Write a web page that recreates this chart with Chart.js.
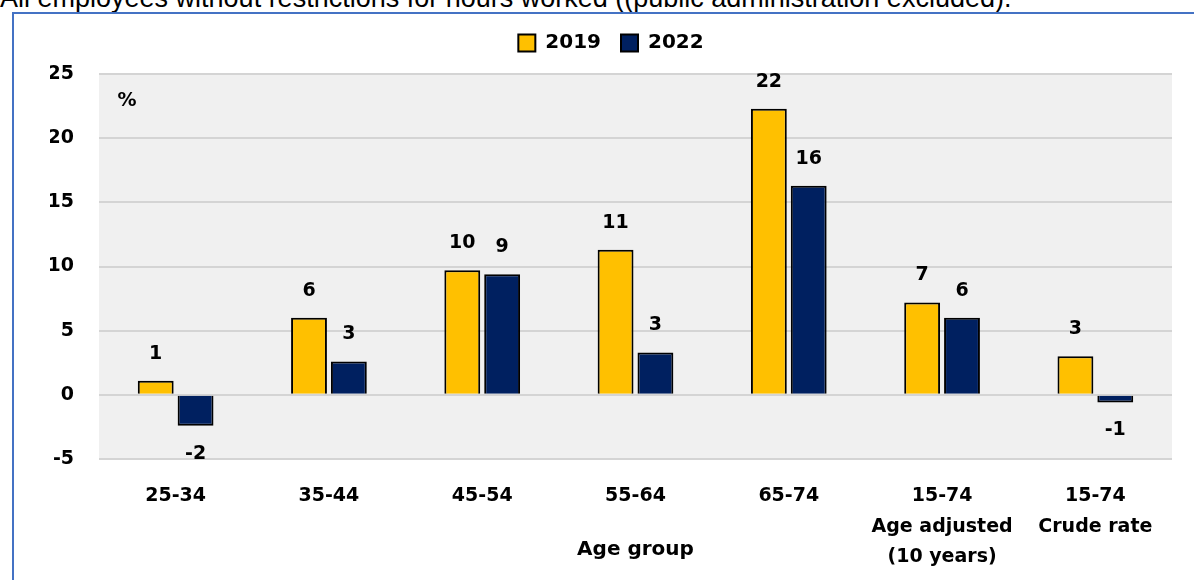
<!DOCTYPE html>
<html>
<head>
<meta charset="utf-8">
<script src="https://cdn.jsdelivr.net/npm/chart.js@4"></script>
<style>
  body { margin: 0; background: #fff; overflow: hidden; }
  #note { position: absolute; left: 0; top: -17px; font: 27px "Liberation Sans", Arial, sans-serif; color: #000; white-space: nowrap; }
  #frame { position: absolute; left: 12px; top: 12px; width: 1300px; height: 700px; border-left: 2px solid #4472C4; border-top: 2px solid #4472C4; }
  #wrap { position: absolute; left: 0; top: 0; width: 1194px; height: 580px; }
</style>
</head>
<body>
<div id="note">All employees without restrictions for hours worked ((public administration excluded).</div>
<div id="frame"></div>
<div id="wrap"><canvas id="chart"></canvas></div>
<script>
const categories = ["25-34", "35-44", "45-54", "55-64", "65-74", ["15-74", "Age adjusted", "(10 years)"], ["15-74", "Crude rate"]];
const values2019 = [1.1, 6.0, 9.7, 11.3, 22.3, 7.2, 3.0];
const values2022 = [-2.4, 2.6, 9.4, 3.3, 16.3, 6.0, -0.6];
const labels2019 = ["1", "6", "10", "11", "22", "7", "3"];
const labels2022 = ["-2", "3", "9", "3", "16", "6", "-1"];

const font = "'DejaVu Sans', sans-serif";

// extra room under the legend, before the plot starts
const legendGap = {
    id: "legendGap",
    beforeInit(chart) {
        const fit = chart.legend.fit;
        chart.legend.fit = function () {
            fit.call(this);
            this.height += 11;
        };
    }
};

const plotBackground = {
    id: "plotBackground",
    beforeDraw(chart) {
        const a = chart.chartArea;
        const ctx = chart.ctx;
        ctx.save();
        ctx.fillStyle = "#f0f0f0";
        ctx.fillRect(a.left, a.top, a.right - a.left, a.bottom - a.top);
        ctx.restore();
    }
};

const valueLabels = {
    id: "valueLabels",
    afterDatasetsDraw(chart) {
        const ctx = chart.ctx;
        const texts = [labels2019, labels2022];
        ctx.save();
        ctx.font = "bold 19px " + font;
        ctx.fillStyle = "#000";
        ctx.textAlign = "center";
        ctx.textBaseline = "middle";
        chart.data.datasets.forEach((ds, i) => {
            chart.getDatasetMeta(i).data.forEach((bar, j) => {
                const up = ds.data[j] >= 0;
                ctx.fillText(texts[i][j], bar.x, bar.y + (up ? -27 : 28));
            });
        });
        // unit label inside the plot
        ctx.fillText("%", 127, 101);
        ctx.restore();
    }
};

new Chart(document.getElementById("chart"), {
    type: "bar",
    data: {
        labels: categories,
        datasets: [
            { label: "2019", data: values2019, backgroundColor: "#FFC000", borderColor: "#000", borderWidth: 2 },
            { label: "2022", data: values2022, backgroundColor: "#002060", borderColor: "#000", borderWidth: 2 }
        ]
    },
    options: {
        responsive: true,
        maintainAspectRatio: false,
        animation: false,
        categoryPercentage: 0.52,
        barPercentage: 0.9,
        layout: { padding: { top: 13, right: 22, bottom: 14, left: 50 } },
        plugins: {
            legend: {
                labels: {
                    color: "#000",
                    font: { family: font, size: 20, weight: "bold" },
                    boxWidth: 17,
                    boxHeight: 17,
                    padding: 20
                }
            },
            tooltip: { enabled: false }
        },
        scales: {
            x: {
                grid: { display: false, drawTicks: false },
                border: { display: false },
                ticks: {
                    color: "#000",
                    padding: 22,
                    maxRotation: 0,
                    font: { family: font, size: 19, weight: "bold", lineHeight: 1.6 }
                },
                title: {
                    display: true,
                    text: "Age group",
                    color: "#000",
                    font: { family: font, size: 20, weight: "bold" }
                },
                afterFit(scale) { scale.height = 107; }
            },
            y: {
                min: -5,
                max: 25,
                ticks: {
                    stepSize: 5,
                    color: "#000",
                    padding: 25,
                    font: { family: font, size: 19, weight: "bold" }
                },
                grid: { color: "#d4d4d4", lineWidth: 2, drawTicks: false },
                border: { display: false },
                afterFit(scale) { scale.width = 49; }
            }
        }
    },
    plugins: [legendGap, plotBackground, valueLabels]
});
</script>
</body>
</html>
